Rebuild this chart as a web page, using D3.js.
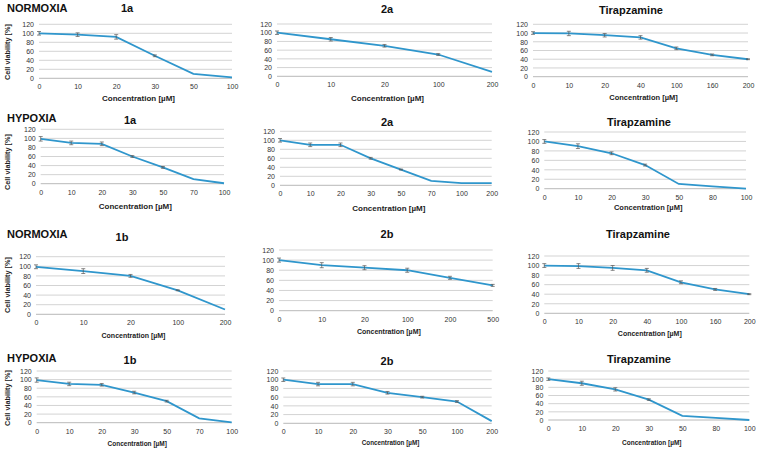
<!DOCTYPE html>
<html>
<head>
<meta charset="utf-8">
<script src="https://cdn.jsdelivr.net/npm/d3@7"></script>
<style>
  body { margin: 0; background: #fff; }
  svg { display: block; }
</style>
</head>
<body>
<div id="chart"></div>
<script>
// ---- data ----
var conc_N1a = ["0", "10", "20", "30", "50", "100"];
var via_N1a  = [100, 97, 92, 50, 10, 2];
var err_N1a  = [4, 4, 5, 2, 0, 0];

var conc_N2a = ["0", "10", "20", "100", "200"];
var via_N2a  = [100, 85, 70, 50, 10];
var err_N2a  = [4, 4, 3, 2, 0];

var conc_NT1 = ["0", "10", "20", "40", "100", "160", "200"];
var via_NT1  = [100, 99, 95, 90, 65, 50, 40];
var err_NT1  = [3, 5, 4, 4, 3, 2, 1];

var conc_H1a = ["0", "10", "20", "30", "50", "70", "100"];
var via_H1a  = [99, 90, 88, 60, 36, 10, 1];
var err_H1a  = [5, 4, 4, 2, 2, 0, 0];

var conc_H2a = ["0", "10", "20", "30", "50", "70", "100", "200"];
var via_H2a  = [100, 90, 90, 60, 35, 10, 5, 5];
var err_H2a  = [4, 4, 4, 2, 1, 0, 0, 0];

var conc_HT1 = ["0", "10", "20", "30", "50", "80", "100"];
var via_HT1  = [100, 90, 75, 50, 10, 5, 0];
var err_HT1  = [4, 5, 3, 2, 0, 0, 0];

var conc_N1b = ["0", "10", "20", "100", "200"];
var via_N1b  = [99, 90, 80, 50, 10];
var err_N1b  = [4, 5, 3, 1, 0];

var conc_N2b = ["0", "10", "20", "100", "200", "500"];
var via_N2b  = [100, 90, 85, 80, 65, 50];
var err_N2b  = [4, 5, 4, 4, 3, 2];

var conc_NT2 = ["0", "10", "20", "40", "100", "160", "200"];
var via_NT2  = [100, 99, 95, 90, 65, 50, 40];
var err_NT2  = [4, 5, 5, 4, 3, 2, 1];

var conc_H1b = ["0", "10", "20", "30", "50", "70", "100"];
var via_H1b  = [99, 90, 88, 70, 50, 10, 1];
var err_H1b  = [5, 4, 3, 3, 2, 0, 0];

var conc_H2b = ["0", "10", "20", "30", "50", "100", "200"];
var via_H2b  = [100, 90, 90, 70, 60, 50, 5];
var err_H2b  = [4, 4, 4, 3, 2, 2, 0];

var conc_HT2 = ["0", "10", "20", "30", "50", "80", "100"];
var via_HT2  = [100, 90, 75, 50, 10, 5, 0];
var err_HT2  = [3, 5, 4, 2, 0, 0, 0];

var yTicks = [0, 20, 40, 60, 80, 100, 120];
var xTitle = "Concentration [\u00b5M]";
var yTitle = "Cell viability [%]";

// ---- panel placement (pixels) ----
// x0/x1 = first/last category, yt/yb = 120 / 0 line
var panels = [
  {c: conc_N1a, v: via_N1a, e: err_N1a, title: "1a", cond: "NORMOXIA", x0: 39, x1: 232, yt: 24.3, yb: 78.3, tx: 127, ty: 12, cy: 12, xl: 101, xf: 8, yl: 52},
  {c: conc_N2a, v: via_N2a, e: err_N2a, title: "2a", x0: 277, x1: 492, yt: 24, yb: 76.3, tx: 387, ty: 13, xl: 101, xf: 8},
  {c: conc_NT1, v: via_NT1, e: err_NT1, title: "Tirapzamine", x0: 533, x1: 748, yt: 24.3, yb: 76.7, tx: 631, ty: 14, xl: 100, xf: 7.5},
  {c: conc_H1a, v: via_H1a, e: err_H1a, title: "1a", cond: "HYPOXIA", x0: 40.7, x1: 224, yt: 129.3, yb: 183.7, tx: 130, ty: 124, cy: 122, xl: 209, xf: 8, yl: 162},
  {c: conc_H2a, v: via_H2a, e: err_H2a, title: "2a", x0: 280, x1: 491.7, yt: 131.3, yb: 185.3, tx: 387, ty: 126, xl: 211, xf: 8},
  {c: conc_HT1, v: via_HT1, e: err_HT1, title: "Tirapzamine", x0: 544.3, x1: 746, yt: 132, yb: 188.7, tx: 639, ty: 126, xl: 210, xf: 7.5},
  {c: conc_N1b, v: via_N1b, e: err_N1b, title: "1b", cond: "NORMOXIA", x0: 36, x1: 225, yt: 256.7, yb: 314.3, tx: 122, ty: 241, cy: 238, xl: 338, xf: 7, yl: 285},
  {c: conc_N2b, v: via_N2b, e: err_N2b, title: "2b", x0: 279, x1: 492.7, yt: 250, yb: 310.7, tx: 387, ty: 238, xl: 334, xf: 7},
  {c: conc_NT2, v: via_NT2, e: err_NT2, title: "Tirapzamine", x0: 544.3, x1: 749.3, yt: 256, yb: 313.3, tx: 638, ty: 238, xl: 336, xf: 7},
  {c: conc_H1b, v: via_H1b, e: err_H1b, title: "1b", cond: "HYPOXIA", x0: 36.7, x1: 231.7, yt: 371, yb: 422.7, tx: 130, ty: 364, cy: 362, xl: 446, xf: 6.5, yl: 398},
  {c: conc_H2b, v: via_H2b, e: err_H2b, title: "2b", x0: 283.3, x1: 491.7, yt: 371, yb: 423.3, tx: 387, ty: 365, xl: 445, xf: 6.3},
  {c: conc_HT2, v: via_HT2, e: err_HT2, title: "Tirapzamine", x0: 548.3, x1: 749.3, yt: 371, yb: 420, tx: 639, ty: 363, xl: 445, xf: 6.5}
];

var font = "'Liberation Sans', Arial, sans-serif";
var lineColor = "#2f96cc";

var svg = d3.select("#chart").append("svg")
    .attr("width", 760)
    .attr("height", 451)
    .style("font-family", font);

function drawPanel(p)
{
    var g = svg.append("g");
    var x = d3.scalePoint().domain(p.c).range([p.x0, p.x1]).padding(0);
    var y = d3.scaleLinear().domain([0, 120]).range([p.yb, p.yt]);

    // gridlines
    g.selectAll("line.grid")
        .data(yTicks)
        .enter()
        .append("line")
        .attr("x1", p.x0).attr("x2", p.x1)
        .attr("y1", function(d){ return y(d); })
        .attr("y2", function(d){ return y(d); })
        .attr("stroke", function(d){ return d == 0 ? "#a6a6a6" : "#c8c8c8"; })
        .attr("stroke-width", 0.8);

    // y tick labels
    var ya = d3.axisLeft(y).tickValues(yTicks).tickSize(0).tickPadding(5);
    var yg = g.append("g").attr("transform", "translate(" + p.x0 + ",0)").call(ya);
    yg.select(".domain").remove();
    yg.selectAll("text").attr("font-size", 7).attr("fill", "#333").style("font-family", font);

    // x tick labels
    var xa = d3.axisBottom(x).tickSize(0).tickPadding(6);
    var xg = g.append("g").attr("transform", "translate(0," + p.yb + ")").call(xa);
    xg.select(".domain").remove();
    xg.selectAll("text").attr("font-size", 7).attr("fill", "#333").style("font-family", font);

    // line
    var idx = d3.range(p.c.length);
    var line = d3.line()
        .x(function(i){ return x(p.c[i]); })
        .y(function(i){ return y(p.v[i]); });
    g.append("path")
        .datum(idx)
        .attr("d", line)
        .attr("fill", "none")
        .attr("stroke", lineColor)
        .attr("stroke-width", 1.8);

    // error bars
    var eb = g.selectAll("g.err")
        .data(idx.filter(function(i){ return p.e[i] > 0; }))
        .enter()
        .append("g")
        .attr("stroke", "#555")
        .attr("stroke-width", 0.7);
    eb.append("line")
        .attr("x1", function(i){ return x(p.c[i]); })
        .attr("x2", function(i){ return x(p.c[i]); })
        .attr("y1", function(i){ return y(p.v[i] + p.e[i]); })
        .attr("y2", function(i){ return y(p.v[i] - p.e[i]); });
    [1, -1].forEach(function(s){
        eb.append("line")
            .attr("x1", function(i){ return x(p.c[i]) - 2; })
            .attr("x2", function(i){ return x(p.c[i]) + 2; })
            .attr("y1", function(i){ return y(p.v[i] + s * p.e[i]); })
            .attr("y2", function(i){ return y(p.v[i] + s * p.e[i]); });
    });

    // titles
    g.append("text")
        .attr("x", p.tx).attr("y", p.ty)
        .attr("text-anchor", "middle")
        .attr("font-size", 11).attr("font-weight", "bold")
        .attr("fill", "#111")
        .text(p.title);
    if( p.cond != undefined ){
        g.append("text")
            .attr("x", 7).attr("y", p.cy)
            .attr("font-size", 11).attr("font-weight", "bold")
            .attr("fill", "#111")
            .text(p.cond);
        g.append("text")
            .attr("transform", "translate(10," + p.yl + ") rotate(-90)")
            .attr("text-anchor", "middle")
            .attr("font-size", 7.3).attr("font-weight", "bold")
            .attr("fill", "#222")
            .text(yTitle);
    }
    g.append("text")
        .attr("x", (p.x0 + p.x1) / 2 + 3).attr("y", p.xl)
        .attr("text-anchor", "middle")
        .attr("font-size", p.xf).attr("font-weight", "bold")
        .attr("fill", "#222")
        .text(xTitle);
}

for (var k in panels){
    drawPanel(panels[k]);
}
</script>
</body>
</html>
